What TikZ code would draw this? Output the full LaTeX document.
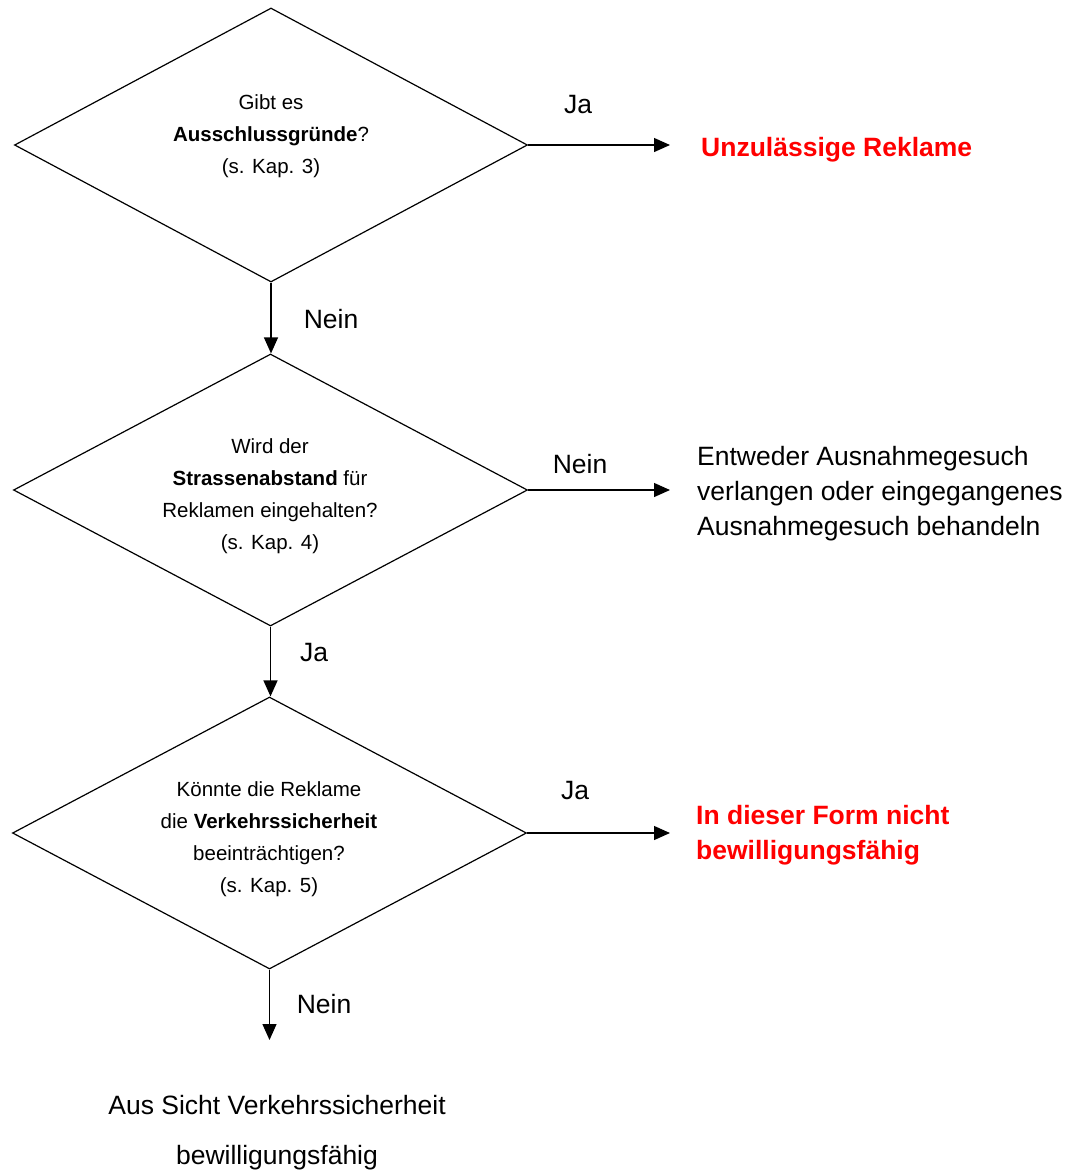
\documentclass[tikz,border=0pt]{standalone}
\usepackage{fontspec}
\setmainfont{Liberation Sans}
\usetikzlibrary{shapes.geometric,arrows.meta}
\definecolor{warnred}{RGB}{255,0,0}
\begin{document}
\begin{tikzpicture}[x=1pt,y=-1pt,
  decision/.style={draw,line width=1.2pt,shape=diamond,inner sep=0pt,minimum width=#1,minimum height=272pt},
  qtext/.style={align=center,font=\fontsize{20.5}{32}\selectfont,inner sep=0pt},
  lbl/.style={font=\fontsize{26.5}{35}\selectfont,inner sep=0pt},
  result/.style={align=left,font=\fontsize{26.5}{35}\selectfont,inner sep=0pt,anchor=west},
  redres/.style={result,text=warnred,font=\fontsize{26.5}{35}\selectfont\bfseries},
  flow/.style={line width=1.3pt,-{Triangle[length=16pt,width=14pt]}}]
\useasboundingbox (0,0) rectangle (1074,1171);

% diamonds
\node[decision=513pt,minimum height=274pt] (d1) at (271,145) {};
\node[decision=514pt] (d2) at (270.5,490) {};
\node[decision=514pt] (d3) at (269.5,833) {};

% diamond texts
\node[qtext] (q1) at (271,136) {Gibt es\\\textbf{Ausschlussgründe}?\\(s. Kap. 3)};
\node[qtext] (q2) at (270,496) {Wird der\\\textbf{Strassenabstand} für\\Reklamen eingehalten?\\(s. Kap. 4)};
\node[qtext] (q3) at (269,839) {Könnte die Reklame\\die \textbf{Verkehrssicherheit}\\beeinträchtigen?\\(s. Kap. 5)};

% free ends
\coordinate (e1) at (670,145);
\coordinate (e2) at (670,490);
\coordinate (e3) at (670,833);
\coordinate (e4) at (269.5,1040);

% connectors
\draw[flow] (d1.east) -- (e1);
\draw[flow] (d1.south) -- (d1.south |- d2.north);
\draw[flow] (d2.east) -- (e2);
\draw[flow] (d2.south) -- (d2.south |- d3.north);
\draw[flow] (d3.east) -- (e3);
\draw[flow] (d3.south) -- (e4);

% labels
\node[lbl] (l1) at (578,105) {Ja};
\node[lbl] (l2) at (331,319) {Nein};
\node[lbl] (l3) at (580,464) {Nein};
\node[lbl] (l4) at (314,653) {Ja};
\node[lbl] (l5) at (575,791) {Ja};
\node[lbl] (l6) at (324,1004) {Nein};

% results
\node[redres] (r1) at (701,150) {Unzulässige Reklame};
\node[result] (r2) at (697,494) {Entweder Ausnahmegesuch\\verlangen oder eingegangenes\\Ausnahmegesuch behandeln};
\node[redres] (r3) at (696,835) {In dieser Form nicht\\bewilligungsfähig};
\node[align=center,inner sep=0pt,font=\fontsize{26.5}{50}\selectfont] (r4) at (277,1133) {Aus Sicht Verkehrssicherheit\\bewilligungsfähig};
\end{tikzpicture}
\end{document}
